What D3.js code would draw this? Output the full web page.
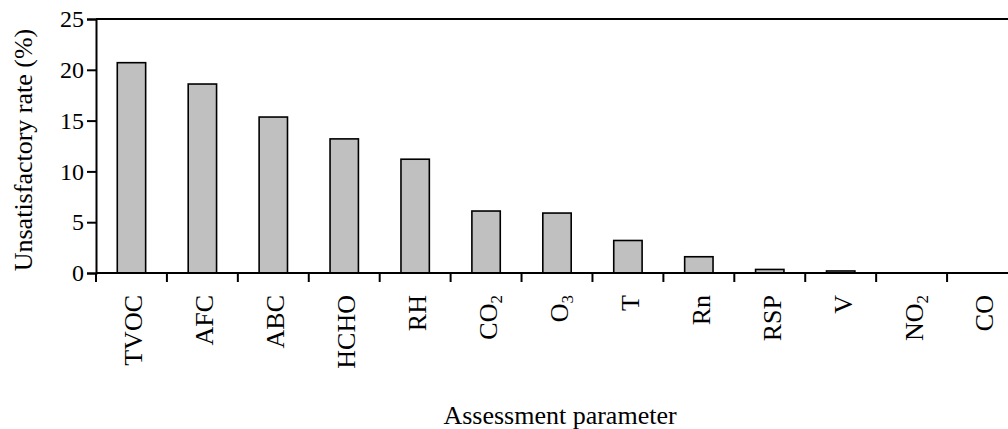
<!DOCTYPE html>
<html>
<head>
<meta charset="utf-8">
<script src="https://cdn.jsdelivr.net/npm/d3@7"></script>
<style>
  html, body { margin: 0; padding: 0; background: #fff; }
  svg { display: block; }
  text { font-family: "Liberation Serif", "Times New Roman", serif; fill: #000; }
</style>
</head>
<body>
<svg id="chart" width="1008" height="429"></svg>
<script>
// Assessment parameters, in order of unsatisfactory rate
const categories = ["TVOC", "AFC", "ABC", "HCHO", "RH", "CO2", "O3", "T", "Rn", "RSP", "V", "NO2", "CO"];
// Unsatisfactory rate (%) per parameter
const rates = [20.7, 18.6, 15.35, 13.2, 11.2, 6.1, 5.9, 3.2, 1.6, 0.35, 0.2, 0, 0];
// Y-axis tick values
const yTicks = [0, 5, 10, 15, 20, 25];

// Labels with chemical subscripts: [main text, subscript]
const labelParts = {
  "CO2": ["CO", "2"],
  "O3": ["O", "3"],
  "NO2": ["NO", "2"]
};

const svg = d3.select("#chart");
const margin = { left: 96, top: 19, right: -10, bottom: 156 };
const W = 1008, H = 429;
const x0 = margin.left, x1 = W - margin.right;
const y0 = H - margin.bottom, y1 = margin.top;

const x = d3.scaleBand().domain(categories).range([x0, x1]).paddingInner(0.6).paddingOuter(0.3);
const xTickScale = d3.scaleLinear().domain([0, categories.length]).range([x0, x1]);
const y = d3.scaleLinear().domain([0, 25]).range([y0, y1]);

// Bars
svg.append("g").selectAll("rect")
  .data(categories)
  .join("rect")
  .attr("x", d => x(d))
  .attr("width", x.bandwidth())
  .attr("y", (d, i) => y(rates[i]))
  .attr("height", (d, i) => y(0) - y(rates[i]))
  .attr("fill", "#c0c0c0")
  .attr("stroke", "#000")
  .attr("stroke-width", 1.6);

// Top frame line
svg.append("line")
  .attr("x1", x0).attr("x2", x1)
  .attr("y1", y(25)).attr("y2", y(25))
  .attr("stroke", "#000").attr("stroke-width", 2);

// Y axis
const yAxis = svg.append("g")
  .attr("transform", `translate(${x0},0)`)
  .call(d3.axisLeft(y).tickValues(yTicks).tickSize(9).tickPadding(3).tickFormat(d3.format("d")))
  .attr("font-family", "Liberation Serif, serif")
  .attr("font-size", 24);
yAxis.select(".domain").attr("stroke-width", 2);
yAxis.selectAll(".tick line").attr("stroke-width", 2);
yAxis.selectAll(".tick text")
  .style("font-family", "'Liberation Serif', serif")
  .style("font-size", "24px")
  .attr("fill", "#000");

// X axis baseline with boundary ticks between categories
const xAxis = svg.append("g");
xAxis.append("line")
  .attr("x1", x0).attr("x2", x1)
  .attr("y1", y0).attr("y2", y0)
  .attr("stroke", "#000").attr("stroke-width", 2);
xAxis.selectAll("line.sep")
  .data(d3.range(categories.length + 1))
  .join("line")
  .attr("class", "sep")
  .attr("x1", i => xTickScale(i)).attr("x2", i => xTickScale(i))
  .attr("y1", y0).attr("y2", y0 + 9)
  .attr("stroke", "#000").attr("stroke-width", 2);

// Rotated category labels
const labels = svg.append("g").selectAll("text")
  .data(categories)
  .join("text")
  .attr("transform", d => `translate(${x(d) + x.bandwidth() / 2},${y0 + 22}) rotate(-90)`)
  .attr("text-anchor", "end")
  .attr("dy", "0.42em")
  .style("font-size", "26px");

labels.each(function (d) {
  const t = d3.select(this);
  const parts = labelParts[d];
  if (parts) {
    t.append("tspan").text(parts[0]);
    t.append("tspan")
      .attr("dy", "0.3em")
      .style("font-size", "17px")
      .text(parts[1]);
  } else {
    t.text(d);
  }
});

// Axis titles
svg.append("text")
  .attr("transform", `translate(23,150) rotate(-90)`)
  .attr("text-anchor", "middle")
  .attr("dy", "0.35em")
  .style("font-size", "26px")
  .text("Unsatisfactory rate (%)");

svg.append("text")
  .attr("x", 560)
  .attr("y", 424)
  .attr("text-anchor", "middle")
  .style("font-size", "26px")
  .text("Assessment parameter");
</script>
</body>
</html>
